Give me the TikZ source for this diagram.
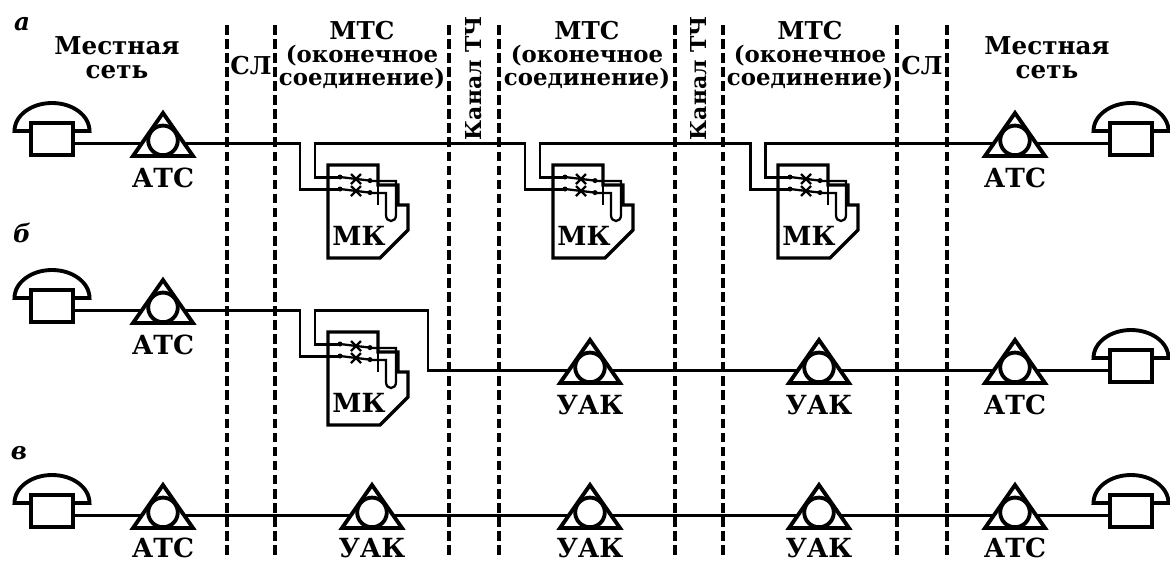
\documentclass[tikz,border=0pt]{standalone}
\usepackage{fontspec}
\setmainfont{DejaVu Serif}
\pgfdeclarelayer{bg}
\pgfsetlayers{bg,main}
\def\labdy{35}
\tikzset{
  wire/.style={line width=1.7pt},
  sym/.style={line width=2.2pt, fill=white, line join=miter},
  card/.style={line width=1.9pt, line join=miter},
  inner/.style={line width=1.3pt},
  sep/.style={line width=2.1pt, dash pattern=on 5.5pt off 2.5pt},
  head/.style={font=\fontsize{13}{15}\selectfont\bfseries, inner sep=0},
  bighead/.style={font=\fontsize{14}{16}\selectfont\bfseries, inner sep=0},
  twoline/.style={font=\fontsize{14}{13.6}\selectfont\bfseries, inner sep=0, align=center},
  vhead/.style={font=\fontsize{12.5}{15}\selectfont\bfseries, inner sep=0, rotate=90},
  lab/.style={font=\fontsize{15}{17}\selectfont\bfseries, inner sep=0},
  rowlab/.style={font=\fontsize{14}{16}\selectfont\bfseries\itshape, inner sep=0},
  pt/.style={inner sep=0, minimum size=0},
  pics/station/.style={code={
    \draw[sym] (-30,13) -- (0,-30) -- (30,13) -- cycle;
    \draw[sym] (0,-2.6) circle[radius=14.8];
    \node[pt] (-c) at (0,0) {};
    \node[lab] (-t) at (0,\labdy) {#1};
  }},
  pics/phone/.style={code={
    \draw[sym] (-37.5,-12) .. controls (-37.5,-27.5) and (-20.7,-40) .. (0,-40)
       .. controls (20.7,-40) and (37.5,-27.5) .. (37.5,-12) -- cycle;
    \draw[sym] (-21,-20) rectangle (21,12);
    \node[pt] (-c) at (0,0) {};
  }},
  pics/mk/.style={code={
    \draw[card] (0,0) -- (50,0) -- (50,20) -- (70,20) -- (70,40) -- (80,40)
       -- (80,65) -- (52,93) -- (0,93) -- cycle;
    \draw[inner] (50,20) -- (50,40);
    \draw[inner] (12,12) -- (45,16) -- (68,16) -- (68,50)
       .. controls (68,58) and (58,58) .. (58,50) -- (58,28) -- (45,28) -- (12,24);
    \draw[inner] (23,9) -- (33,19) (23,19) -- (33,9);
    \draw[inner] (23,21) -- (33,31) (23,31) -- (33,21);
    \fill (12,12) circle[radius=2.5] (12,24) circle[radius=2.5]
          (42,15.6) circle[radius=2.5] (42,27.6) circle[radius=2.5];
    \coordinate (-in) at (12,24);
    \coordinate (-out) at (12,12);
    \coordinate (-inbend) at (-28,24);
    \coordinate (-outbend) at (-13,12);
    \coordinate (-intop) at (-28,-22);
    \coordinate (-top) at (-13,-22);
    \node[lab] (-t) at (31,71) {МК};
  }}
}
\begin{document}
\begin{tikzpicture}[x=0.02cm,y=-0.02cm]
\useasboundingbox (0,0) rectangle (1170,562);

% separators
\foreach \xx in {227,275,449,499,675,723,897,947}
  \draw[sep] (\xx,25) -- (\xx,556);

% headings
\node[rowlab] (ra) at (22,24) {а};
\node[rowlab] (rb) at (22,233) {б};
\node[rowlab] (rc) at (19,453) {в};

\node[twoline] (ls1) at (117,58) {Местная\\сеть};
\node[twoline] (ls2) at (1047,58) {Местная\\сеть};
\node[bighead] (sl1) at (251,66) {СЛ};
\node[bighead] (sl2) at (922,66) {СЛ};
\foreach \xx/\nn in {362/m1,587/m2,810/m3}{
  \node[bighead] (\nn a) at (\xx,31) {МТС};
  \node[head] (\nn b) at (\xx,56) {(оконечное};
  \node[head] (\nn c) at (\xx,79) {соединение)};
}
\node[vhead] (k1) at (474,78) {Канал ТЧ};
\node[vhead] (k2) at (699,78) {Канал ТЧ};

% row a
\pic (phA1) at (52,143) {phone};
\pic (atcA1) at (163,143) {station=АТС};
\pic (mkA1) at (328,165) {mk};
\pic (mkA2) at (553,165) {mk};
\pic (mkA3) at (778,165) {mk};
\pic (atcA2) at (1015,143) {station=АТС};
\pic (phA2) at (1131,143) {phone};

% row b
\pic (phB1) at (52,310) {phone};
\pic (atcB1) at (163,310) {station=АТС};
\pic (mkB) at (328,332) {mk};
\coordinate (tb1) at (428,310);
\coordinate (tb2) at (428,370);
\pic (uakB1) at (590,370) {station=УАК};
\pic (uakB2) at (819,370) {station=УАК};
\pic (atcB2) at (1015,370) {station=АТС};
\pic (phB2) at (1131,370) {phone};

% row c
\def\labdy{33}
\pic (phC1) at (52,515) {phone};
\pic (atcC1) at (163,515) {station=АТС};
\pic (uakC1) at (372,515) {station=УАК};
\pic (uakC2) at (590,515) {station=УАК};
\pic (uakC3) at (819,515) {station=УАК};
\pic (atcC2) at (1015,515) {station=АТС};
\pic (phC2) at (1131,515) {phone};

\begin{pgfonlayer}{bg}
\draw[wire] (phA1-c) -- (atcA1-c) -- (mkA1-intop) -- (mkA1-inbend) -- (mkA1-in);
\draw[wire] (mkA1-out) -- (mkA1-outbend) -- (mkA1-top) -- (mkA2-intop) -- (mkA2-inbend) -- (mkA2-in);
\draw[wire] (mkA2-out) -- (mkA2-outbend) -- (mkA2-top) -- (mkA3-intop) -- (mkA3-inbend) -- (mkA3-in);
\draw[wire] (mkA3-out) -- (mkA3-outbend) -- (mkA3-top) -- (atcA2-c) -- (phA2-c);

\draw[wire] (phB1-c) -- (atcB1-c) -- (mkB-intop) -- (mkB-inbend) -- (mkB-in);
\draw[wire] (mkB-out) -- (mkB-outbend) -- (mkB-top) -- (tb1) -- (tb2) -- (uakB1-c) -- (uakB2-c) -- (atcB2-c) -- (phB2-c);

\draw[wire] (phC1-c) -- (atcC1-c) -- (uakC1-c) -- (uakC2-c) -- (uakC3-c) -- (atcC2-c) -- (phC2-c);
\end{pgfonlayer}
\end{tikzpicture}
\end{document}
